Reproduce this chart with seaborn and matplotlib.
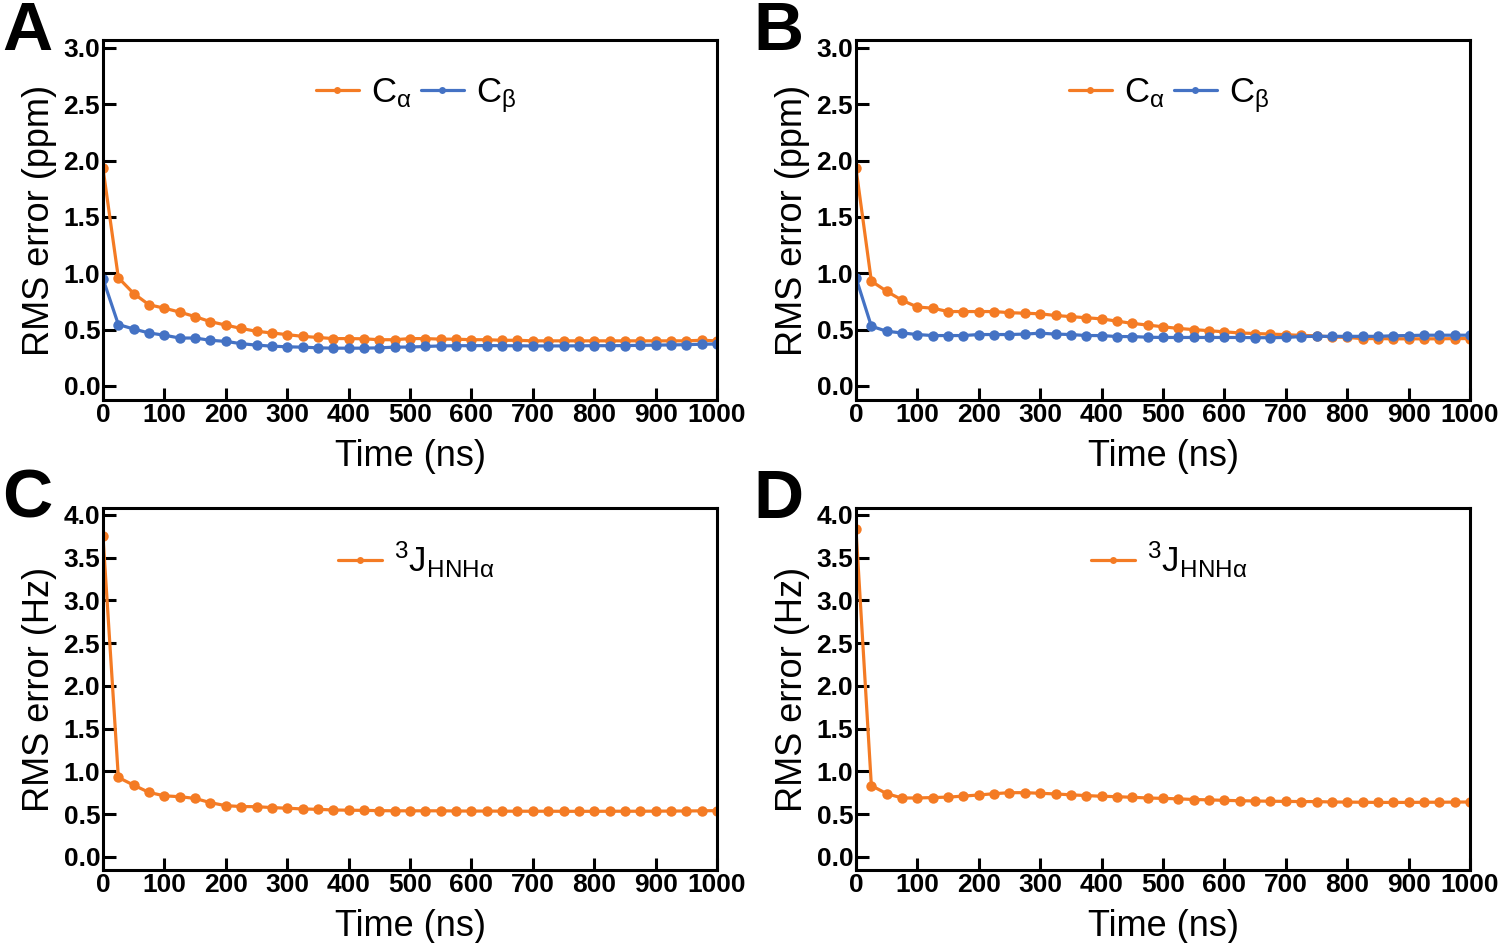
import matplotlib
matplotlib.use("Agg")
import matplotlib.pyplot as plt
import seaborn as sns
import pandas as pd

time_ns = list(range(0, 1001, 25))

a_calpha = [1.93, 0.96, 0.82, 0.72, 0.69, 0.655, 0.615, 0.57, 0.54, 0.51, 0.485, 0.47, 0.455, 0.44,
            0.43, 0.42, 0.42, 0.418, 0.41, 0.41, 0.42, 0.42, 0.415, 0.415, 0.41, 0.41, 0.405, 0.405,
            0.40, 0.40, 0.40, 0.40, 0.40, 0.40, 0.40, 0.40, 0.40, 0.40, 0.40, 0.405, 0.40]
a_cbeta = [0.95, 0.545, 0.505, 0.47, 0.45, 0.425, 0.425, 0.405, 0.395, 0.375, 0.362, 0.353, 0.347,
           0.344, 0.338, 0.335, 0.335, 0.335, 0.338, 0.344, 0.345, 0.35, 0.355, 0.357, 0.357, 0.358,
           0.357, 0.356, 0.355, 0.355, 0.355, 0.356, 0.357, 0.357, 0.358, 0.36, 0.362, 0.364, 0.366,
           0.37, 0.372]
b_calpha = [1.93, 0.93, 0.84, 0.76, 0.70, 0.69, 0.66, 0.66, 0.66, 0.66, 0.65, 0.645, 0.64, 0.625,
            0.615, 0.605, 0.595, 0.575, 0.555, 0.54, 0.525, 0.51, 0.50, 0.49, 0.48, 0.47, 0.465,
            0.46, 0.455, 0.448, 0.445, 0.435, 0.43, 0.42, 0.42, 0.418, 0.418, 0.418, 0.418, 0.42, 0.42]
b_cbeta = [0.96, 0.53, 0.485, 0.47, 0.456, 0.447, 0.447, 0.447, 0.456, 0.456, 0.456, 0.46, 0.468,
           0.46, 0.456, 0.447, 0.447, 0.438, 0.438, 0.432, 0.43, 0.43, 0.43, 0.43, 0.43, 0.43, 0.428,
           0.428, 0.43, 0.438, 0.44, 0.44, 0.44, 0.44, 0.44, 0.445, 0.447, 0.45, 0.45, 0.45, 0.45]
c_jhnha = [3.75, 0.93, 0.84, 0.755, 0.715, 0.705, 0.685, 0.635, 0.60, 0.59, 0.588, 0.578, 0.57,
           0.562, 0.557, 0.55, 0.547, 0.545, 0.542, 0.54, 0.54, 0.54, 0.54, 0.538, 0.537, 0.537,
           0.536, 0.535, 0.535, 0.535, 0.534, 0.534, 0.534, 0.535, 0.535, 0.535, 0.536, 0.537,
           0.538, 0.54, 0.542]
d_jhnha = [3.83, 0.835, 0.74, 0.69, 0.69, 0.695, 0.70, 0.712, 0.725, 0.74, 0.752, 0.752, 0.745,
           0.737, 0.727, 0.718, 0.71, 0.705, 0.698, 0.69, 0.685, 0.68, 0.672, 0.668, 0.662, 0.658,
           0.655, 0.652, 0.65, 0.648, 0.648, 0.643, 0.642, 0.64, 0.638, 0.638, 0.638, 0.64, 0.64,
           0.642, 0.643]

x_ticks = list(range(0, 1001, 100))
y_ticks_cs = [0.0, 0.5, 1.0, 1.5, 2.0, 2.5, 3.0]
y_ticks_j = [0.0, 0.5, 1.0, 1.5, 2.0, 2.5, 3.0, 3.5, 4.0]

label_ca = r'C$_{\mathrm{\alpha}}$'
label_cb = r'C$_{\mathrm{\beta}}$'
label_j = r'$^{3}$J$_{\mathrm{HNH\alpha}}$'

ORANGE = '#F47B24'
BLUE = '#4472C4'

sns.set_style('ticks')
plt.rcParams['font.family'] = ['Liberation Sans', 'DejaVu Sans']
plt.rcParams['mathtext.fontset'] = 'custom'
plt.rcParams['mathtext.rm'] = 'Liberation Sans'
plt.rcParams['mathtext.it'] = 'Liberation Sans:italic'
plt.rcParams['mathtext.bf'] = 'Liberation Sans:bold'
plt.rcParams['text.color'] = 'black'
plt.rcParams['axes.labelcolor'] = 'black'
plt.rcParams['xtick.color'] = 'black'
plt.rcParams['ytick.color'] = 'black'

W, H = 1503, 943
fig = plt.figure(figsize=(W / 100, H / 100), dpi=100)

def ax_at(l, r, t, b):
    return fig.add_axes([l / W, 1 - b / H, (r - l) / W, (b - t) / H])

axA = ax_at(103, 717, 40, 400)
axB = ax_at(856, 1470, 40, 400)
axC = ax_at(103, 717, 508, 870)
axD = ax_at(856, 1470, 508, 870)

def draw(ax, series, ylim, yticks, ylabel, leg_y):
    for vals, color, lab in series:
        df = pd.DataFrame({'t': time_ns, 'v': vals})
        sns.lineplot(data=df, x='t', y='v', ax=ax, color=color, marker='o', markersize=7.5,
                     markeredgewidth=0, linewidth=2.3, label=lab)
    ax.set_xlim(0, 1000)
    ax.set_ylim(*ylim)
    ax.set_xticks(x_ticks)
    ax.set_yticks(yticks)
    ax.set_yticklabels([f'{v:.1f}' for v in yticks])
    ax.set_xlabel('Time (ns)', fontsize=26, labelpad=9)
    ax.set_ylabel(ylabel, fontsize=26, labelpad=5)
    for s in ax.spines.values():
        s.set_linewidth(2.2)
        s.set_color('black')
        s.set_visible(True)
    ax.tick_params(direction='in', length=9, width=2.2, labelsize=19, pad=2,
                   top=False, right=False, colors='black')
    for t in ax.get_xticklabels() + ax.get_yticklabels():
        t.set_fontweight('bold')
    leg = ax.legend(loc='center', bbox_to_anchor=(0.51, leg_y), ncol=2, frameon=False,
                    fontsize=25, handlelength=1.25, handletextpad=0.35, columnspacing=0.25,
                    borderpad=0.1)
    for h in leg.get_lines():
        h.set_markersize(5)
        h.set_linewidth(2.3)

draw(axA, [(a_calpha, ORANGE, label_ca), (a_cbeta, BLUE, label_cb)], (-0.125, 3.07), y_ticks_cs, 'RMS error (ppm)', 0.845)
draw(axB, [(b_calpha, ORANGE, label_ca), (b_cbeta, BLUE, label_cb)], (-0.125, 3.07), y_ticks_cs, 'RMS error (ppm)', 0.845)
draw(axC, [(c_jhnha, ORANGE, label_j)], (-0.152, 4.08), y_ticks_j, 'RMS error (Hz)', 0.856)
draw(axD, [(d_jhnha, ORANGE, label_j)], (-0.152, 4.08), y_ticks_j, 'RMS error (Hz)', 0.856)

for letter, x, y in [('A', 2, 0), ('B', 753, 0), ('C', 2, 468), ('D', 753, 468)]:
    fig.text(x / W, 1 - y / H, letter, fontsize=50, fontweight='bold', ha='left', va='top')

fig.savefig('out.png', dpi=100)
